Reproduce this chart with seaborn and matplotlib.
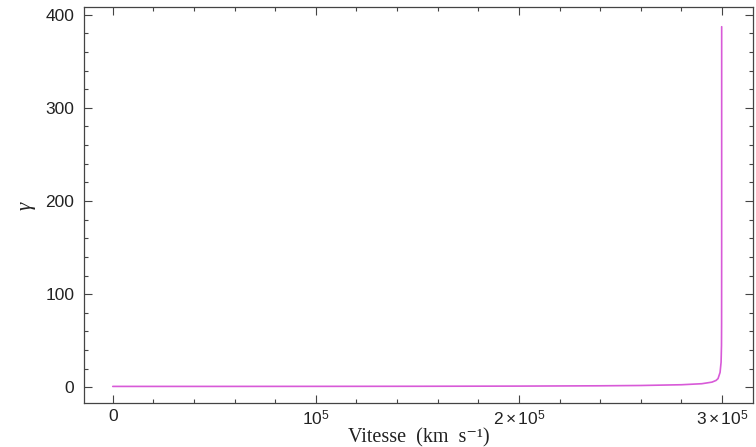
import numpy as np
import pandas as pd
import seaborn as sb
import matplotlib.pyplot as plt
from matplotlib.ticker import MultipleLocator, FixedLocator

# values (velocity in km/s, Lorentz factor)
vitesse = [0, 5e4, 1e5, 1.5e5, 2e5, 2.4e5, 2.6e5, 2.8e5, 2.9e5, 2.95e5,
           2.97e5, 2.98e5, 2.99e5, 2.995e5, 2.997e5, 2.9975e5, 2.9978e5, 2.99791e5]
gamma = [1.0, 1.01, 1.06, 1.15, 1.34, 1.67, 2.0, 2.8, 3.9, 5.6,
         7.4, 9.4, 16, 27, 45, 69, 150, 387]
x_ticks = [0, 1e5, 2e5, 3e5]
x_labels = ['0', r'$10^5$', r'$2\times10^5$', r'$3\times10^5$']
y_ticks = [0, 100, 200, 300, 400]

df = pd.DataFrame({'v': vitesse, 'g': gamma})

sb.set_style('ticks')
plt.rcParams['font.family'] = ['Liberation Sans', 'DejaVu Sans']
plt.rcParams['mathtext.fontset'] = 'custom'
plt.rcParams['mathtext.rm'] = 'Liberation Sans'
plt.rcParams['mathtext.it'] = 'Liberation Serif:italic'

fig = plt.figure(figsize=(7.56, 4.47), dpi=100)
ax = fig.add_axes([0.111, 0.098, 0.885, 0.886])

sb.lineplot(data=df, x='v', y='g', ax=ax, color='#d85ad8', linewidth=1.2)

ax.set_xlim(-1.42e4, 3.152e5)
ax.set_ylim(-17, 408)
ax.xaxis.set_major_locator(FixedLocator(x_ticks))
ax.set_xticklabels(x_labels)
ax.xaxis.set_minor_locator(MultipleLocator(2e4))
ax.yaxis.set_major_locator(FixedLocator(y_ticks))
ax.yaxis.set_minor_locator(MultipleLocator(20))

ax.tick_params(which='both', direction='in', top=True, right=True,
               colors='#444444', labelcolor='#222222', labelsize=12.5, width=0.8)
ax.tick_params(which='major', length=6)
ax.tick_params(axis='y', which='major', pad=7)
ax.tick_params(axis='x', which='major', pad=4)
ax.tick_params(which='minor', length=3)
for s in ax.spines.values():
    s.set_color('#444444')
    s.set_linewidth(0.9)

ax.set_xlabel('Vitesse  (km  s\u207b\u00b9)', family=['Liberation Serif', 'DejaVu Serif'],
              fontsize=14.5, color='#222222')
ax.xaxis.set_label_coords(0.5, -0.062)
ax.xaxis.label.set_va('top')
ax.set_ylabel(r'$\gamma$', fontsize=15, color='#222222', labelpad=5)

plt.savefig('out.png', dpi=100)
